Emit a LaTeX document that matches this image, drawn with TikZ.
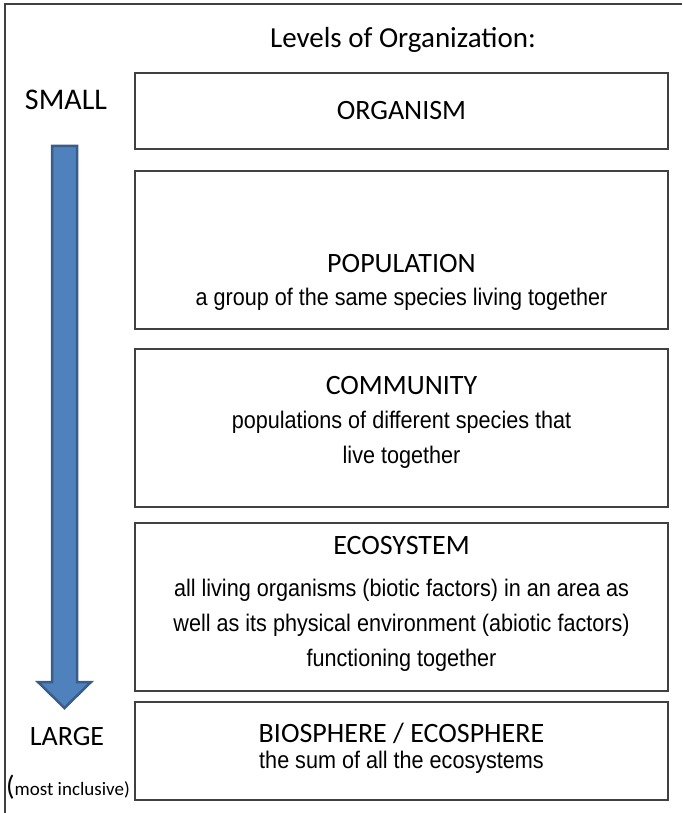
\documentclass[tikz,border=0pt]{standalone}
\usepackage{fontspec}
\setmainfont{Carlito}
\newfontfamily\descfont[FakeStretch=0.9]{Liberation Sans}
\definecolor{framegray}{HTML}{404040}
\definecolor{arrowfill}{HTML}{4F81BD}
\definecolor{arrowline}{HTML}{385D8A}
\tikzset{
  levelbox/.style={draw=framegray, line width=1.5pt, minimum width=533pt, inner sep=0pt},
  heading/.style={font=\fontsize{28}{32}\selectfont, inner sep=0pt},
  desc/.style={font=\descfont\fontsize{24}{35}\selectfont, align=center, inner sep=0pt},
}
\begin{document}
\begin{tikzpicture}[x=1pt,y=-1pt]
\useasboundingbox (0,0) rectangle (682,813);
\draw[framegray, line width=1.5pt] (682,4)--(5,4)--(5,813);
\node[heading, font=\fontsize{29}{32}\selectfont] (title) at (403,40) {Levels of Organization:};

\foreach \name/\top/\bot in {organism/73/149,population/171/329,community/349/507,ecosystem/523/691,biosphere/702/800}
{
    \node[levelbox, minimum height={\bot-\top}] (\name) at (401.5,{(\top+\bot)/2}) {};
}

\node[heading] (organism-t) at (organism) {ORGANISM};
\node[heading] (population-t) at (401.5,264) {POPULATION};
\node[desc] (population-d) at (401.5,299) {a group of the same species living together};
\node[heading] (community-t) at (401.5,386) {COMMUNITY};
\node[desc] (community-d) at (401.5,440) {populations of different species that\\live together};
\node[heading] (ecosystem-t) at (401.5,546) {ECOSYSTEM};
\node[desc] (ecosystem-d) at (401.5,625) {all living organisms (biotic factors) in an area as\\well as its physical environment (abiotic factors)\\functioning together};
\node[heading] (biosphere-t) at (401.5,733) {BIOSPHERE / ECOSPHERE};
\node[desc] (biosphere-d) at (401.5,762) {the sum of all the ecosystems};

% small to large
\node[heading, font=\fontsize{30}{32}\selectfont] (small) at (66,100) {SMALL};
\node[heading] (large) at (67,737) {LARGE};
\node[inner sep=0pt] (inclusive) at (68,787) {{\fontsize{28}{30}\selectfont(}{\fontsize{19}{22}\selectfont most inclusive)}};

\filldraw[fill=arrowfill, draw=arrowline, line width=2.5pt] (52,146)--(77,146)--(77,682)--(91,682)--(64.5,708)--(38,682)--(52,682)--cycle;
\end{tikzpicture}
\end{document}
